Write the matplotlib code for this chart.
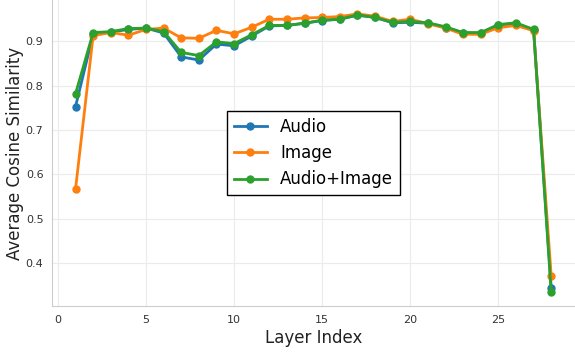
import matplotlib
matplotlib.use("Agg")
import matplotlib.pyplot as plt
import numpy as np

layers = list(range(1, 29))
audio = [0.753, 0.916, 0.921, 0.927, 0.930, 0.919, 0.865, 0.858, 0.894, 0.890,
         0.912, 0.935, 0.936, 0.941, 0.947, 0.950, 0.959, 0.954, 0.942, 0.943,
         0.941, 0.931, 0.919, 0.918, 0.937, 0.940, 0.926, 0.344]
image = [0.567, 0.913, 0.920, 0.914, 0.927, 0.930, 0.908, 0.907, 0.925, 0.917,
         0.932, 0.950, 0.950, 0.953, 0.954, 0.956, 0.962, 0.957, 0.945, 0.950,
         0.940, 0.930, 0.916, 0.916, 0.931, 0.936, 0.924, 0.371]
audio_image = [0.782, 0.920, 0.922, 0.929, 0.930, 0.922, 0.875, 0.868, 0.899, 0.895,
               0.915, 0.936, 0.936, 0.941, 0.948, 0.950, 0.960, 0.954, 0.943, 0.945,
               0.942, 0.933, 0.920, 0.920, 0.938, 0.942, 0.927, 0.334]

series = [("Audio", audio, "#1f77b4"),
          ("Image", image, "#ff7f0e"),
          ("Audio+Image", audio_image, "#2ca02c")]

fig, ax = plt.subplots(figsize=(5.75, 3.54), dpi=100)
for name, vals, c in series:
    ax.plot(layers, vals, marker="o", markersize=5, linewidth=2, color=c, label=name)

ax.grid(True, color="#ebebeb", linewidth=0.8)
ax.set_axisbelow(True)
for s in ["top", "right"]:
    ax.spines[s].set_visible(False)
for s in ["left", "bottom"]:
    ax.spines[s].set_color("#cccccc")
ax.tick_params(axis="both", labelsize=8, colors="#333333", length=0, pad=6)
ax.set_xlabel("Layer Index", fontsize=12, color="#222222", labelpad=3)
ax.set_ylabel("Average Cosine Similarity", fontsize=12, color="#222222", labelpad=1)
ax.set_xticks([0, 5, 10, 15, 20, 25])
ax.set_yticks([0.4, 0.5, 0.6, 0.7, 0.8, 0.9])

leg = ax.legend(loc="center", fontsize=12, fancybox=False, framealpha=1)
leg.get_frame().set_edgecolor("black")
leg.get_frame().set_linewidth(1.0)

fig.subplots_adjust(left=0.09, right=1.0, top=1.0, bottom=0.135)
fig.savefig("out.png", dpi=100)
